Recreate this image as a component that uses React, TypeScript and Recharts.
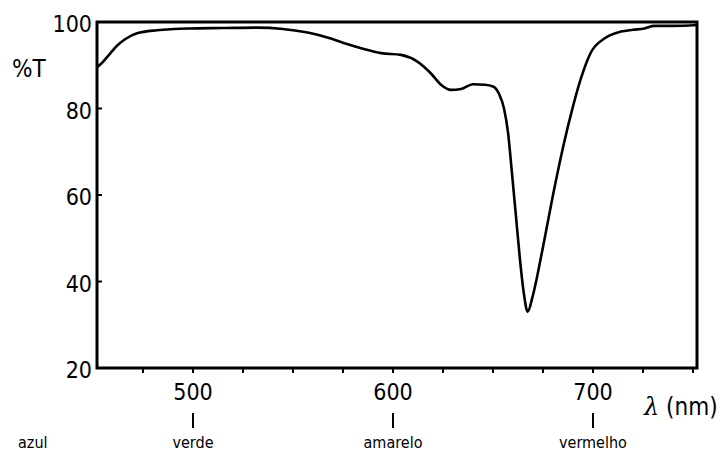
import React from 'react';
import { LineChart, Line, XAxis, YAxis, ReferenceArea } from 'recharts';

const wavelength = [452, 455, 458, 462, 466, 472, 482, 498, 515, 532, 545, 558, 568, 577, 585, 594, 604, 612, 619, 624, 629, 634, 640, 646, 650, 653, 655.5, 657.5, 659.5, 661.5, 663.5, 665.5, 667.3, 669.8, 672, 675, 680, 685, 690, 694, 699, 705.7, 714, 720, 725.6, 730.6, 740, 752];
const transmittance = [89.5, 90.8, 92.4, 94.5, 96.0, 97.4, 98.1, 98.5, 98.6, 98.7, 98.4, 97.5, 96.3, 94.9, 93.8, 92.8, 92.4, 90.9, 88.1, 85.5, 84.3, 84.5, 85.6, 85.5, 85.1, 83.4, 80, 74.5, 65, 55, 45, 37, 33, 36.5, 41, 48, 60, 71, 80.5, 87, 93, 96.2, 97.8, 98.2, 98.5, 99.1, 99.1, 99.3];

const xTicks = [475, 500, 525, 550, 575, 600, 625, 650, 675, 700, 725, 750];
const xLabelTicks = [500, 600, 700];
const colourNames = ['verde', 'amarelo', 'vermelho'];
const yTicks = [20, 40, 60, 80, 100];

const data = wavelength.map((w, i) => ({ w, t: transmittance[i] }));

const FONT = "'DejaVu Sans Condensed', 'Liberation Sans Narrow', 'DejaVu Sans', sans-serif";

function XTick(props: any) {
  const { x, y, payload } = props;
  const idx = xLabelTicks.indexOf(payload.value);
  return (
    <g>
      <line x1={x} y1={y} x2={x} y2={y + 5} stroke="#000" strokeWidth={2} />
      {idx >= 0 && (
        <>
          <text x={x} y={y + 32} textAnchor="middle" fontSize={23} fontFamily={FONT} fill="#000">
            {payload.value}
          </text>
          <line x1={x} y1={y + 45} x2={x} y2={y + 60} stroke="#000" strokeWidth={2} />
          <text x={x} y={y + 80} textAnchor="middle" fontSize={16} fontFamily={FONT} fill="#000">
            {colourNames[idx]}
          </text>
        </>
      )}
    </g>
  );
}

function YTick(props: any) {
  const { x, y, payload } = props;
  return (
    <g>
      <line x1={x} y1={y} x2={x + 5} y2={y} stroke="#000" strokeWidth={2} />
      <text x={x - 5} y={y + 2} textAnchor="end" dominantBaseline="central" fontSize={23} fontFamily={FONT} fill="#000">
        {payload.value}
      </text>
    </g>
  );
}

export default function App() {
  return (
    <div style={{ position: 'absolute', left: 0, top: 0, width: 728, height: 457, background: '#fff' }}>
      <LineChart width={728} height={457} data={data} margin={{ top: 22, right: 31, left: 0, bottom: 0 }}>
        <XAxis
          dataKey="w"
          type="number"
          domain={[452, 752]}
          ticks={xTicks}
          tick={<XTick />}
          tickLine={false}
          tickSize={0}
          tickMargin={0}
          height={89}
          axisLine={false}
          interval={0}
        />
        <YAxis
          domain={[20, 100]}
          ticks={yTicks}
          tick={<YTick />}
          tickLine={false}
          tickSize={0}
          tickMargin={0}
          width={97}
          axisLine={false}
          interval={0}
        />
        <ReferenceArea x1={452} x2={752} y1={20} y2={100} fill="none" stroke="#000" strokeWidth={3} ifOverflow="visible" />
        <Line type="monotone" dataKey="t" stroke="#000" strokeWidth={2.6} dot={false} isAnimationActive={false} />
      </LineChart>
      <svg width={728} height={457} style={{ position: 'absolute', left: 0, top: 0, pointerEvents: 'none' }}>
        <text x={12} y={77} fontSize={24} fontFamily={FONT} fill="#000">%T</text>
        <text x={18} y={448} fontSize={16} fontFamily={FONT} fill="#000">azul</text>
        <text x={644} y={415} fontSize={24} fontFamily={FONT} fill="#000">
          <tspan fontStyle="italic" fontFamily="'DejaVu Serif', serif">λ</tspan> (nm)
        </text>
      </svg>
    </div>
  );
}
